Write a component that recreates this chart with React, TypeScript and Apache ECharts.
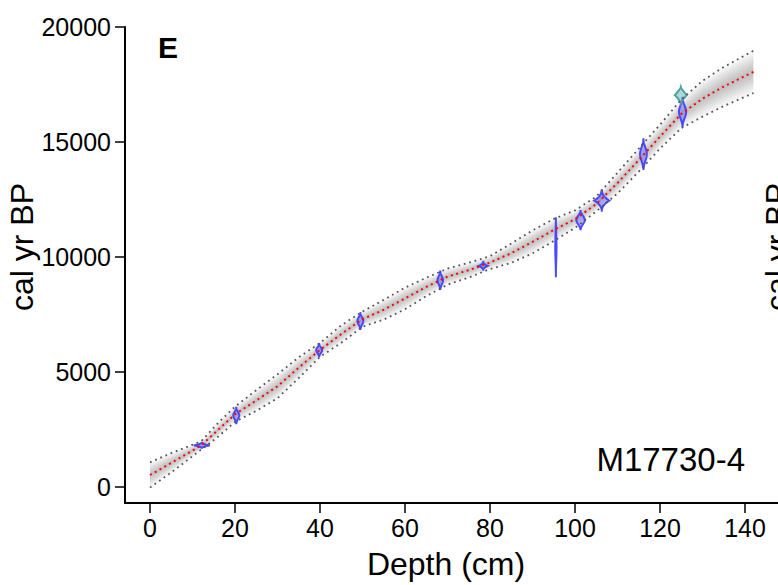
import React, { useEffect, useRef } from "react";
import * as echarts from "echarts";

// ---- data ----
const depthKnots = [0, 5, 12, 16, 20, 25, 30, 35, 40, 45, 50, 55, 60, 65, 70, 75, 80, 85, 90, 95, 100, 105, 110, 115, 120, 125, 130, 135, 142];
const medianAge = [509, 1040, 1790, 2470, 3150, 3750, 4370, 5180, 5950, 6640, 7290, 7700, 8190, 8690, 9140, 9420, 9750, 10160, 10650, 11170, 11640, 12300, 13210, 14210, 15230, 16220, 16880, 17410, 18050];
const halfRange = [550, 420, 180, 300, 330, 450, 520, 450, 300, 380, 330, 430, 470, 400, 350, 320, 280, 420, 500, 480, 380, 320, 450, 500, 520, 620, 780, 850, 920];

// calibrated dates (blue) + one outlier date (teal)
const dateDepth = [12.2, 20.3, 39.8, 49.5, 68.3, 78.4, 95.5, 101.3, 106.3, 116.1, 125.3, 124.9];
const dateAge = [1800, 3100, 5940, 7210, 8980, 9610, 10415, 11600, 12450, 14470, 16310, 17040];
const dateErr = [150, 375, 300, 385, 420, 215, 1305, 435, 490, 690, 655, 360];
const dateWidth = [1.9, 0.7, 0.7, 0.7, 0.65, 1.1, 0.15, 1.0, 1.8, 0.8, 0.85, 1.4];
const dateKind = ["star", "lens", "lens", "lens", "lens", "star", "lens", "lens", "star", "lens", "lens", "diamond"];
const dateGroup = ["blue", "blue", "blue", "blue", "blue", "blue", "blue", "blue", "blue", "blue", "blue", "teal"];

const xTicks = [0, 20, 40, 60, 80, 100, 120, 140];
const yTicks = [0, 5000, 10000, 15000, 20000];

// ---- layout ----
const W = 778;
const H = 585;
const GRID_LEFT = 125;
const GRID_TOP = 27;
const GRID_BOTTOM_PX = 503;
const X0_PX = 150;
const PX_PER_CM = 4.25;
const Y0_PX = 486.7;
const PX_PER_YR = (486.7 - 27) / 20000;
const X_MIN = (GRID_LEFT - X0_PX) / PX_PER_CM;
const X_MAX = (W - X0_PX) / PX_PER_CM;
const Y_MAX = 20000;
const Y_MIN = -(GRID_BOTTOM_PX - Y0_PX) / PX_PER_YR;

const FONT = '"Liberation Sans", Arial, Helvetica, sans-serif';

function profile(t: number, kind: string): number {
  const a = Math.abs(t);
  if (kind === "star") return Math.pow(1 - a, 2.4);
  if (kind === "diamond") return Math.pow(1 - a, 1.3);
  const e = Math.exp(-3);
  return (Math.exp(-3 * t * t) - e) / (1 - e);
}

export default function App() {
  const ref = useRef<HTMLDivElement>(null);

  useEffect(() => {
    document.body.style.margin = "0";
    const chart = echarts.init(ref.current as HTMLDivElement, null, { renderer: "svg" });

    const bandLevels = [1.0, 0.86, 0.72, 0.58, 0.44, 0.3, 0.16];

    const bandSeries: any = {
      type: "custom",
      silent: true,
      z: 1,
      data: [[0, 0]],
      renderItem: (params: any, api: any) => {
        const children = bandLevels.map((f) => {
          const up = depthKnots.map((d, i) => api.coord([d, medianAge[i] + f * halfRange[i]]));
          const lo = depthKnots.map((d, i) => api.coord([d, medianAge[i] - f * halfRange[i]])).reverse();
          return {
            type: "polygon",
            shape: { points: up.concat(lo) },
            style: { fill: "rgba(0,0,0,0.036)", stroke: null },
          };
        });
        return { type: "group", children };
      },
    };

    const dateData = dateDepth.map((d, i) => [d, dateAge[i], dateErr[i], dateWidth[i], i]);

    const dateSeries: any = {
      type: "custom",
      silent: true,
      z: 2,
      data: dateData,
      renderItem: (params: any, api: any) => {
        const d = api.value(0);
        const a = api.value(1);
        const err = api.value(2);
        const w = api.value(3);
        const idx = api.value(4);
        const kind = dateKind[idx];
        const right: number[][] = [];
        const left: number[][] = [];
        const n = 40;
        for (let k = 0; k <= n; k++) {
          const t = -1 + (2 * k) / n;
          const p = profile(t, kind);
          right.push(api.coord([d + w * p, a + t * err]));
          left.push(api.coord([d - w * p, a + t * err]));
        }
        const pts = right.concat(left.reverse());
        const teal = dateGroup[idx] === "teal";
        return {
          type: "polygon",
          shape: { points: pts },
          style: {
            fill: teal ? "rgba(110,185,185,0.55)" : "rgba(90,90,255,0.42)",
            stroke: teal ? "#4fa0a0" : "rgba(65,65,255,0.95)",
            lineWidth: 2,
          },
        };
      },
    };

    const upperData = depthKnots.map((d, i) => [d, medianAge[i] + halfRange[i]]);
    const lowerData = depthKnots.map((d, i) => [d, medianAge[i] - halfRange[i]]);
    const medianData = depthKnots.map((d, i) => [d, medianAge[i]]);

    const dotted = (data: number[][], color: string, width: number, dash: number[], z: number) => ({
      type: "line",
      data,
      symbol: "none",
      showSymbol: false,
      silent: true,
      z,
      lineStyle: { color, width, type: dash, cap: "butt" },
    });

    const plain = (v: number) => String(v);

    const option: any = {
      animation: false,
      grid: { left: GRID_LEFT, top: GRID_TOP, right: 0, bottom: H - GRID_BOTTOM_PX, containLabel: false },
      xAxis: {
        type: "value",
        min: X_MIN,
        max: X_MAX,
        axisLine: { show: true, onZero: false, lineStyle: { color: "#000", width: 2 } },
        axisTick: { show: true, customValues: xTicks, length: 10, lineStyle: { color: "#000", width: 1.5 } },
        axisLabel: { show: true, customValues: xTicks, formatter: plain, fontSize: 25, color: "#000", margin: 12, fontFamily: FONT },
        splitLine: { show: false },
      },
      yAxis: {
        type: "value",
        min: Y_MIN,
        max: Y_MAX,
        axisLine: { show: true, onZero: false, lineStyle: { color: "#000", width: 2 } },
        axisTick: { show: true, customValues: yTicks, length: 10, lineStyle: { color: "#000", width: 1.5 } },
        axisLabel: { show: true, customValues: yTicks, formatter: plain, fontSize: 25, color: "#000", margin: 14, fontFamily: FONT },
        splitLine: { show: false },
      },
      series: [
        bandSeries,
        dateSeries,
        dotted(upperData, "#555", 1.8, [1.8, 3.8], 3),
        dotted(lowerData, "#555", 1.8, [1.8, 3.8], 3),
        dotted(medianData, "#ff0000", 2, [2, 3.5], 4),
      ],
      graphic: [
        {
          type: "text",
          x: 22,
          y: 247,
          rotation: Math.PI / 2,
          style: { text: "cal yr BP", fontSize: 32, fontFamily: FONT, fill: "#000", align: "center", verticalAlign: "middle" },
        },
        {
          type: "text",
          x: 777,
          y: 247,
          rotation: Math.PI / 2,
          style: { text: "cal yr BP", fontSize: 32, fontFamily: FONT, fill: "#000", align: "center", verticalAlign: "middle" },
        },
        {
          type: "text",
          x: 446,
          y: 564,
          style: { text: "Depth (cm)", fontSize: 32, fontFamily: FONT, fill: "#000", align: "center", verticalAlign: "middle" },
        },
        {
          type: "text",
          x: 158,
          y: 47.5,
          style: { text: "E", fontSize: 30, fontWeight: "bold", fontFamily: FONT, fill: "#000", align: "left", verticalAlign: "middle" },
        },
        {
          type: "text",
          x: 745,
          y: 459,
          style: { text: "M17730-4", fontSize: 33, fontFamily: FONT, fill: "#000", align: "right", verticalAlign: "middle" },
        },
      ],
    };

    chart.setOption(option);
    return () => chart.dispose();
  }, []);

  return (
    <div
      ref={ref}
      style={{ position: "absolute", left: 0, top: 0, width: W, height: H, background: "#fff" }}
    />
  );
}
